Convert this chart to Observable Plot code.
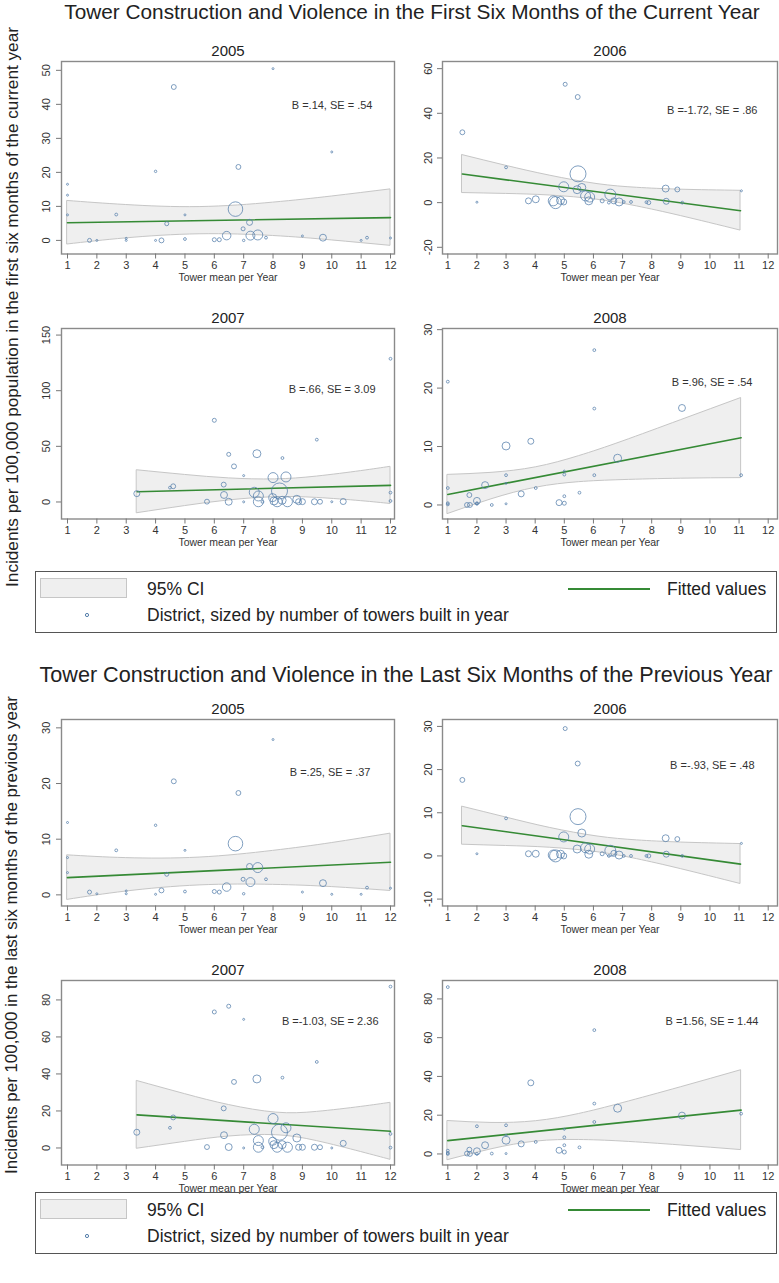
<!DOCTYPE html>
<html><head><meta charset="utf-8">
<script src="https://cdn.jsdelivr.net/npm/d3@7"></script>
<script src="https://cdn.jsdelivr.net/npm/@observablehq/plot@0.6"></script>
<style>
body{margin:0;background:#fff;}
#root{position:relative;width:779px;height:1283px;overflow:hidden;font-family:"Liberation Sans",Arial,Helvetica,sans-serif;color:#222;}
.abs{position:absolute;white-space:nowrap;}
.title{transform:translate(-50%,-50%);}
.ylab{transform:translate(-50%,-50%) rotate(-90deg);}
.legtext{font-size:17.5px;transform:translateY(-50%);}
.legbox{border:1px solid #555;box-sizing:border-box;}
.swatch{background:#efefef;border:1px solid #c6c6c6;box-sizing:border-box;}
</style></head>
<body><div id="root"></div>
<script>
// ---------- text ----------
const titleCur = "Tower Construction and Violence in the First Six Months of the Current Year";
const titlePrev = "Tower Construction and Violence in the Last Six Months of the Previous Year";
const yLabelCur = "Incidents per 100,000 population in the first six months of the current year";
const yLabelPrev = "Incidents per 100,000 in the last six months of the previous year";
const xLabel = "Tower mean per Year";
const years = ["2005", "2006", "2007", "2008"];
const annCur = ["B =.14, SE = .54", "B =-1.72, SE = .86", "B =.66, SE = 3.09", "B =.96, SE = .54"];
const annPrev = ["B =.25, SE = .37", "B =-.93, SE = .48", "B =-1.03, SE = 2.36", "B =1.56, SE = 1.44"];
const legendCI = "95% CI";
const legendFit = "Fitted values";
const legendDistrict = "District, sized by number of towers built in year";
const xTicks = [1, 2, 3, 4, 5, 6, 7, 8, 9, 10, 11, 12];

// ---------- 2005 ----------
const x05 = [1.0,1.0,1.0,1.75,2.0,2.66,3.0,3.0,4.0,4.0,4.2,4.38,4.62,5.0,5.0,6.0,6.17,6.42,6.72,6.82,6.98,7.0,7.2,7.23,7.48,7.76,8.0,9.0,9.7,10.0,11.0,11.2,12.0];
const towers05 = [1,1,1,4,1,2,1,1,1.5,1,6,4,6,1,2,4,4,18,53,6,4,1.5,9,20,25,2,1,1,12,1,1,2,1];
const cur05 = [16.5,13.3,7.5,0,0,7.6,0.6,0,20.3,0,0,4.9,45.1,7.5,0.4,0.2,0.2,1.4,9.2,21.6,3.4,0,5.3,1.4,1.6,0.8,50.5,1.3,0.8,26.0,0,0.8,0.7];
const prev05 = [13.0,6.7,4.0,0.5,0.2,8.0,0.7,0.2,12.5,0.1,0.8,3.7,20.4,8.0,0.6,0.6,0.5,1.4,9.2,18.3,2.8,0.2,5.1,2.3,4.9,2.8,27.9,0.5,2.1,0.1,0.1,1.3,1.2];
const ciCur05X = [1,3,5.5,8,10,12], ciCur05Hi = [11.6,10.4,9.8,11.1,12.9,15.0], ciCur05Lo = [-1.2,0.6,1.8,1.3,0.0,-1.6];
const ciPrev05X = [1,3,5.5,8,10,12], ciPrev05Hi = [7.1,6.6,6.7,7.9,9.3,11.0], ciPrev05Lo = [-0.9,0.6,1.7,1.8,1.4,0.7];
const fitCur05X = [1,12], fitCur05Y = [5.2,6.7];
const fitPrev05X = [1,12], fitPrev05Y = [3.1,5.85];

// ---------- 2006 ----------
const x06 = [1.5,2.0,3.0,3.77,4.02,4.62,4.7,4.87,4.98,4.98,5.03,5.46,5.47,5.44,5.6,5.73,5.87,5.84,6.3,6.53,6.58,6.7,6.88,7.04,7.29,7.82,7.9,8.48,8.5,8.88,9.05,11.08];
const towers06 = [6,1,2,9,12,25,36,16,9,25,4,6,64,16,16,25,25,16,4,2,30,9,16,2,2,2,4,12,9,6,2,1];
const cur06 = [31.5,0.2,15.8,0.8,1.5,0.8,0.0,1.0,0.3,7.1,53.0,47.3,12.9,5.8,6.8,3.0,2.5,0.8,0.8,0.0,3.6,0.8,0.3,0.3,0.3,0.2,0.0,6.3,0.6,5.9,0.0,5.3];
const prev06 = [17.6,0.5,8.7,0.5,0.5,0.2,0.0,0.4,0.0,4.4,29.5,21.4,9.1,1.6,5.3,1.9,1.6,0.4,0.5,0.0,1.2,0.6,0.2,0.0,0.0,0.0,0.0,4.1,0.4,3.9,0.0,2.9];
const ciCur06X = [1.5,3,4.5,6.14,7.5,9,11.05], ciCur06Hi = [21.3,16.5,12.1,8.3,6.65,5.8,5.3], ciCur06Lo = [4.3,3.9,3.2,1.3,-1.7,-6.0,-12.5];
const ciPrev06X = [1.5,3,4.5,6.14,7.5,9,11.05], ciPrev06Hi = [11.4,8.9,6.5,4.5,3.6,3.1,2.75], ciPrev06Lo = [2.6,2.3,1.9,0.86,-0.75,-3.05,-6.5];
const fitCur06X = [1.5,11.05], fitCur06Y = [12.8,-3.6];
const fitPrev06X = [1.5,11.05], fitPrev06Y = [7.0,-1.9];

// ---------- 2007 ----------
const x07 = [3.36,4.49,4.6,5.75,6.0,6.32,6.33,6.49,6.49,6.67,7.0,7.0,7.45,7.36,7.5,7.5,7.64,8.0,8.22,7.99,8.03,8.14,8.32,8.44,8.31,8.49,8.81,8.87,9.0,9.49,9.41,9.6,10.0,10.39,12.0,12.0,12.0];
const towers07 = [9,2,6,6,4,6,12,4,12,6,1,1,16,25,25,25,2,25,64,16,16,25,2,25,16,25,16,9,9,2,9,6,1,9,2,2,2];
const cur07 = [7.5,12.9,14.1,0.3,73.4,15.6,6.3,42.8,0.2,32.0,23.7,0.1,43.4,8.7,5.4,0.2,0.1,21.9,9.9,3.9,0.9,0.2,39.5,22.5,1.5,0.2,2.4,0.2,0.3,56.0,0.2,0.2,0.2,0.4,128.7,8.4,0.9];
const prev07 = [8.5,10.9,16.5,0.5,73.5,21.4,6.9,76.6,0.5,35.7,69.5,0.0,37.3,10.1,4.0,0.4,0.4,15.9,8.5,3.6,1.8,0.4,38.0,10.9,1.8,0.4,5.4,0.4,0.4,46.5,0.4,0.4,0.0,2.5,87.2,7.6,0.2];
const ciCur07X = [3.37,5,6.5,8.07,9.5,11,12], ciCur07Hi = [28.5,24.3,21.2,20.3,22.85,27.75,31.6], ciCur07Lo = [-10.1,-3.7,1.4,4.3,3.65,0.75,-1.8];
const ciPrev07X = [3.37,5,6.5,8.11,9.5,11,12], ciPrev07Hi = [36.2,29.1,23.2,19.1,19.5,22.2,24.4], ciPrev07Lo = [-0.4,3.3,6.2,6.9,3.7,-2.2,-6.4];
const fitCur07X = [3.37,12], fitCur07Y = [9.2,14.9];
const fitPrev07X = [3.37,12], fitPrev07Y = [17.9,9.0];

// ---------- 2008 ----------
const x08 = [1.0,1.0,1.0,1.0,1.66,1.74,1.76,2.0,2.0,2.0,2.28,2.51,3.0,3.0,3.0,3.0,3.52,3.85,4.02,4.82,5.0,5.0,5.0,5.0,5.52,6.03,6.03,6.03,6.83,9.04,11.07];
const towers08 = [2,2,2,2,6,6,6,12,2,2,12,2,16,2,1,1,9,9,2,9,4,2,2,1,2,2,2,2,16,12,2];
const cur08 = [21.1,2.9,0.3,0.1,0.0,1.7,0.0,0.7,0.3,0.2,3.4,0.0,10.1,5.1,3.7,0.2,1.9,10.9,2.9,0.4,0.3,1.5,5.2,5.8,2.1,26.5,16.5,5.1,8.0,16.6,5.1];
const prev08 = [86.1,1.7,0.0,0.5,0.2,2.2,0.0,1.4,14.3,0.0,4.5,0.2,7.1,14.8,9.6,0.2,5.2,36.7,6.2,1.9,1.0,4.5,8.6,12.7,3.4,63.9,16.5,26.0,23.6,19.8,20.8];
const ciCur08X = [1,2.5,4.03,5.5,7,9,11.07], ciCur08Hi = [5.15,5.5,6.45,8.35,10.85,14.5,18.3], ciCur08Lo = [-1.55,0.97,2.96,3.9,4.26,4.5,4.6];
const ciPrev08X = [1,2.5,4.03,5.5,7,9,11.07], ciPrev08Hi = [17.0,16.0,16.9,20.6,26.2,34.4,43.2], ciPrev08Lo = [-3.2,2.4,6.4,7.2,6.4,4.4,2.0];
const fitCur08X = [1,11.07], fitCur08Y = [1.8,11.5];
const fitPrev08X = [1,11.07], fitPrev08Y = [6.9,22.6];

// ---------- styling / layout ----------
const FONT = '"Liberation Sans", Arial, Helvetica, sans-serif';
const BLUE = "#557fab";
const GREEN = "#358a35";
const COLS = [
  {svgLeft: 20, frameL: 61, frameR: 394, x1: 67, x12: 390, mr: 4, yPad: 7},
  {svgLeft: 400, frameL: 442, frameR: 777, x1: 447.3, x12: 767.7, mr: 2, yPad: 6}
];
const ROWS = [
  {top: 60.5, bottom: 253},
  {top: 327.5, bottom: 518},
  {top: 718.5, bottom: 905},
  {top: 979.5, bottom: 1164}
];

const panels = [
  {row:0,col:0,year:years[0],x:x05,t:towers05,y:cur05,ciX:ciCur05X,ciHi:ciCur05Hi,ciLo:ciCur05Lo,fitX:fitCur05X,fitY:fitCur05Y,ann:annCur[0],yDomain:[-4.0,52.6],yTicks:[0,10,20,30,40,50],annDx:-22,annDy:43.5},
  {row:0,col:1,year:years[1],x:x06,t:towers06,y:cur06,ciX:ciCur06X,ciHi:ciCur06Hi,ciLo:ciCur06Lo,fitX:fitCur06X,fitY:fitCur06Y,ann:annCur[1],yDomain:[-23.0,63.2],yTicks:[-20,0,20,40,60],annDx:-20,annDy:48.5},
  {row:1,col:0,year:years[2],x:x07,t:towers07,y:cur07,ciX:ciCur07X,ciHi:ciCur07Hi,ciLo:ciCur07Lo,fitX:fitCur07X,fitY:fitCur07Y,ann:annCur[2],yDomain:[-15.3,155.9],yTicks:[0,50,100,150],annDx:-19,annDy:60.5},
  {row:1,col:1,year:years[3],x:x08,t:towers08,y:cur08,ciX:ciCur08X,ciHi:ciCur08Hi,ciLo:ciCur08Lo,fitX:fitCur08X,fitY:fitCur08Y,ann:annCur[3],yDomain:[-2.4,30.2],yTicks:[0,10,20,30],annDx:-25,annDy:54},
  {row:2,col:0,year:years[0],x:x05,t:towers05,y:prev05,ciX:ciPrev05X,ciHi:ciPrev05Hi,ciLo:ciPrev05Lo,fitX:fitPrev05X,fitY:fitPrev05Y,ann:annPrev[0],yDomain:[-2.0,31.5],yTicks:[0,10,20,30],annDx:-24,annDy:53},
  {row:2,col:1,year:years[1],x:x06,t:towers06,y:prev06,ciX:ciPrev06X,ciHi:ciPrev06Hi,ciLo:ciPrev06Lo,fitX:fitPrev06X,fitY:fitPrev06Y,ann:annPrev[1],yDomain:[-11.6,31.6],yTicks:[-10,0,10,20,30],annDx:-23,annDy:45.5},
  {row:3,col:0,year:years[2],x:x07,t:towers07,y:prev07,ciX:ciPrev07X,ciHi:ciPrev07Hi,ciLo:ciPrev07Lo,fitX:fitPrev07X,fitY:fitPrev07Y,ann:annPrev[2],yDomain:[-9.2,90.5],yTicks:[0,20,40,60,80],annDx:-16,annDy:40.5},
  {row:3,col:1,year:years[3],x:x08,t:towers08,y:prev08,ciX:ciPrev08X,ciHi:ciPrev08Hi,ciLo:ciPrev08Lo,fitX:fitPrev08X,fitY:fitPrev08Y,ann:annPrev[3],yDomain:[-5.7,89.5],yTicks:[0,20,40,60,80],annDx:-19,annDy:41}
];

const root = document.getElementById("root");

function makePanel(p) {
  const col = COLS[p.col], row = ROWS[p.row];
  const mt = 30, mb = 34;
  const ml = col.frameL - col.svgLeft, mr = col.mr;
  const width = col.frameR - col.svgLeft + mr;
  const height = row.bottom - row.top + mt + mb;
  const pts = p.x.map((x, i) => ({x, y: p.y[i], t: p.t[i]})).sort((a, b) => b.t - a.t);
  const ci = p.ciX.map((x, i) => ({x, hi: p.ciHi[i], lo: p.ciLo[i]}));
  const fit = p.fitX.map((x, i) => ({x, y: p.fitY[i]}));
  const svg = Plot.plot({
    width, height, marginTop: mt, marginBottom: mb, marginLeft: ml, marginRight: mr,
    style: {fontFamily: FONT, fontSize: "11px", background: "transparent", color: "#333", overflow: "visible"},
    x: {domain: [1, 12], insetLeft: col.x1 - col.frameL, insetRight: col.frameR - col.x12},
    y: {domain: p.yDomain},
    r: {type: "sqrt", domain: [0, 64], range: [0, 8]},
    marks: [
      Plot.areaY(ci, {x: "x", y1: "lo", y2: "hi", fill: "#efefef", stroke: "#c6c6c6", strokeWidth: 1, curve: "natural"}),
      Plot.line(fit, {x: "x", y: "y", stroke: GREEN, strokeWidth: 1.6}),
      Plot.dot(pts, {x: "x", y: "y", r: "t", stroke: BLUE, strokeOpacity: 0.75, strokeWidth: 1, fill: "none"}),
      Plot.frame({stroke: "#8a8a8a", strokeWidth: 1.4}),
      Plot.axisY({ticks: p.yTicks, tickFormat: d => String(d), tickRotate: -90, tickSize: 5, tickPadding: col.yPad, label: null, stroke: "#777", fill: "#333"}),
      Plot.axisX({ticks: xTicks, tickFormat: d => String(d), tickSize: 5, tickPadding: 2, label: null, stroke: "#777", fill: "#333"}),
      Plot.text([p.year], {frameAnchor: "top", dy: -10, lineAnchor: "middle", fontSize: 15, fill: "#222"}),
      Plot.text([p.ann], {frameAnchor: "top-right", dx: p.annDx, dy: p.annDy, textAnchor: "end", lineAnchor: "middle", fontSize: 11, fill: "#333"}),
      Plot.text([xLabel], {frameAnchor: "bottom", dy: 24, lineAnchor: "middle", fontSize: 10.5, fill: "#333"})
    ]
  });
  svg.style.position = "absolute";
  svg.style.left = col.svgLeft + "px";
  svg.style.top = (row.top - mt) + "px";
  root.appendChild(svg);
}

function addDiv(cls, text, left, top, extra) {
  const d = document.createElement("div");
  d.className = "abs " + cls;
  if (text != null) d.textContent = text;
  d.style.left = left + "px";
  d.style.top = top + "px";
  if (extra) Object.assign(d.style, extra);
  root.appendChild(d);
  return d;
}

function addLegend(y0) {
  addDiv("legbox", null, 35, y0 - 18, {width: "742px", height: "62px"});
  addDiv("swatch", null, 40, y0 - 11, {width: "87px", height: "20px"});
  addDiv("legtext", legendCI, 147, y0);
  addDiv("", null, 568, y0 - 1, {width: "82px", height: "2px", background: GREEN});
  addDiv("legtext", legendFit, 667, y0);
  const s = document.createElementNS("http://www.w3.org/2000/svg", "svg");
  s.setAttribute("width", 8); s.setAttribute("height", 8);
  s.style.position = "absolute"; s.style.left = "83px"; s.style.top = (y0 + 22) + "px";
  const c = document.createElementNS("http://www.w3.org/2000/svg", "circle");
  c.setAttribute("cx", 4); c.setAttribute("cy", 4); c.setAttribute("r", 1.6);
  c.setAttribute("fill", "none"); c.setAttribute("stroke", BLUE); c.setAttribute("stroke-width", 1);
  s.appendChild(c); root.appendChild(s);
  addDiv("legtext", legendDistrict, 147, y0 + 26);
}

addDiv("title", titleCur, 412, 12, {fontSize: "20.8px"});
addDiv("title", titlePrev, 406, 675, {fontSize: "21.6px"});
addDiv("ylab", yLabelCur, 12, 307, {fontSize: "17.2px"});
addDiv("ylab", yLabelPrev, 12, 935, {fontSize: "16.9px"});
panels.forEach(makePanel);
addLegend(589);
addLegend(1210);
</script>
</body></html>
